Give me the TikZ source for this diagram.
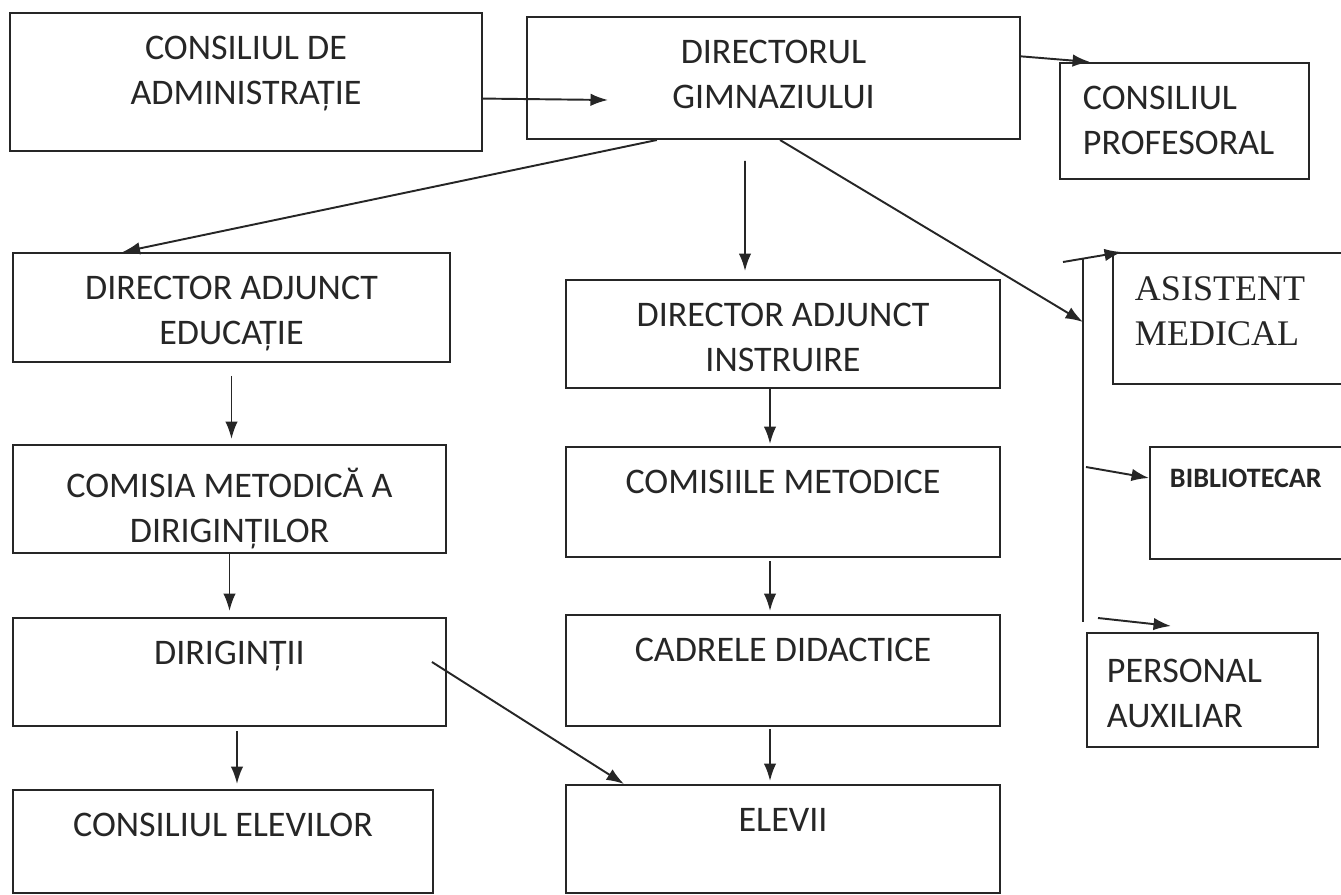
\documentclass[tikz,border=0pt]{standalone}
\usepackage{fontspec}
\setmainfont{Carlito}
\newfontfamily\serifrm{Liberation Serif}
\usetikzlibrary{arrows.meta}
\definecolor{ink}{HTML}{262626}
\newcommand{\boxfont}{\fontsize{20.5pt}{25.6pt}\selectfont}
\tikzset{box/.style={draw=ink,line width=1.15pt,inner sep=0pt},
         txt/.style={anchor=north,align=center,inner sep=0pt,yshift=-0.47cm,text=ink,font=\boxfont},
         ltxt/.style={anchor=north west,align=left,inner sep=0pt,yshift=-0.47cm,text=ink,font=\boxfont},
         >={Latex[length=3.5mm,width=2.5mm]}}

\begin{document}
\begin{tikzpicture}[x=0.02cm,y=-0.02cm,line width=1.1pt,color=ink]
        \useasboundingbox (0,0) rectangle (1341,895);

        % top row
        \node[box,minimum width=9.44cm,minimum height=2.76cm,label={[txt]north:{CONSILIUL DE\\ADMINISTRAȚIE}}](ca)at(246,82){};
        \node[box,minimum width=9.86cm,minimum height=2.44cm,label={[txt]north:{DIRECTORUL\\GIMNAZIULUI}}](dg)at(773.5,78){};
        \node[box,minimum width=4.98cm,minimum height=2.32cm,label={[ltxt,xshift=0.46cm]north west:{CONSILIUL\\PROFESORAL}}](cp)at(1184.5,121){};

        % left column
        \node[box,minimum width=8.74cm,minimum height=2.18cm,label={[txt]north:{DIRECTOR ADJUNCT\\EDUCAȚIE}}](dae)at(231.5,307.5){};
        \node[box,minimum width=8.66cm,minimum height=2.16cm,label={[txt]north:{COMISIA METODICĂ A\\DIRIGINȚILOR}}](cmd)at(229.5,499){};
        \node[box,minimum width=8.66cm,minimum height=2.16cm,label={[txt]north:{DIRIGINȚII}}](dir)at(229.5,672){};
        \node[box,minimum width=8.4cm,minimum height=2.06cm,label={[txt]north:{CONSILIUL ELEVILOR}}](ce)at(223,841.5){};

        % middle column
        \node[box,minimum width=8.68cm,minimum height=2.16cm,label={[txt]north:{DIRECTOR ADJUNCT\\INSTRUIRE}}](dai)at(783,334){};
        \node[box,minimum width=8.68cm,minimum height=2.2cm,label={[txt]north:{COMISIILE METODICE}}](cm)at(783,502){};
        \node[box,minimum width=8.68cm,minimum height=2.22cm,label={[txt]north:{CADRELE DIDACTICE}}](cd)at(783,670.5){};
        \node[box,minimum width=8.68cm,minimum height=2.16cm,label={[txt]north:{ELEVII}}](el)at(783,839){};

        % right column
        \node[box,minimum width=4.94cm,minimum height=2.62cm,label={[ltxt,xshift=0.44cm,font=\boxfont\serifrm]north west:{ASISTENT\\MEDICAL}}](am)at(1236.5,318.5){};
        \node[box,minimum width=4.2cm,minimum height=2.24cm,label={[ltxt,xshift=0.4cm,yshift=0.03cm,font=\fontsize{16pt}{19pt}\selectfont\bfseries]north west:{BIBLIOTECAR}}](bib)at(1255,503){};
        \node[box,minimum width=4.62cm,minimum height=2.28cm,label={[ltxt,xshift=0.4cm,yshift=-0.06cm]north west:{PERSONAL\\AUXILIAR}}](pa)at(1202.5,690){};

        % free ends
        \coordinate(dgin)at(608,100);
        \coordinate(busl)at(1063,262);
        \coordinate(bust)at(1083,258);
        \coordinate(busm)at(1083,322);
        \coordinate(busr)at(1086,467);
        \coordinate(busb)at(1083,622);
        \coordinate(pain)at(1098,618);

        \draw[->](ca.-4)--(dgin);
        \draw[->](dg.5)--(cp.148.5);
        \draw[->](dg.208)--(dae.153);
        \draw[->]([shift={(-0.57cm,-0.42cm)}]dg.south)--([xshift=-0.76cm,yshift=0.16cm]dai.north);
        \draw[->]([xshift=0.13cm]dg.south)--(busm);

        \draw(bust)--(busb);
        \draw[->](busl)--([xshift=0.2cm]am.north west);
        \draw[->](busr)--([yshift=0.5cm]bib.west);
        \draw[->](pain)--([shift={(1.7cm,0.12cm)}]pa.north west);

        \draw[->]([yshift=-0.26cm]dae.south)--([yshift=0.1cm]dae.south|-cmd.north);
        \draw[->](cmd.south)--([yshift=0.12cm]cmd.south|-dir.north);
        \draw[->]([shift={(0.15cm,-0.08cm)}]dir.south)--([shift={(0.15cm,0.1cm)}]dir.south|-ce.north);
        \draw[->]([xshift=0.26cm]dir.center)++(3.79cm,0.2cm)--([xshift=1.18cm]el.north west);

        \draw[->]([xshift=-0.26cm]dai.south)--([xshift=-0.26cm,yshift=0.04cm]dai.south|-cm.north);
        \draw[->]([shift={(-0.26cm,-0.06cm)}]cm.south)--([xshift=-0.26cm,yshift=0.06cm]cm.south|-cd.north);
        \draw[->]([shift={(-0.26cm,-0.04cm)}]cd.south)--([xshift=-0.26cm,yshift=0.06cm]cd.south|-el.north);
    \end{tikzpicture}
\end{document}
